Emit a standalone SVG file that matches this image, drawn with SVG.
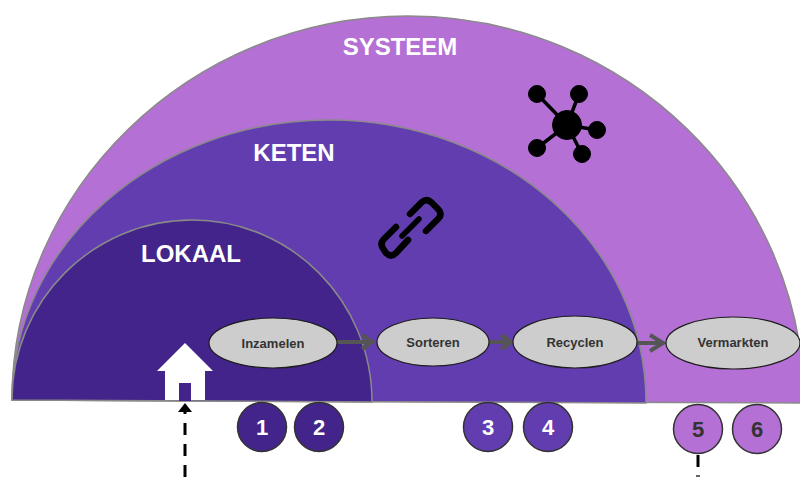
<svg xmlns="http://www.w3.org/2000/svg" width="800" height="477" viewBox="0 0 800 477">
<style>
.dome{stroke:#8a8a8a;stroke-width:1.5}
.title{font:bold 24px "Liberation Sans",Arial,sans-serif;fill:#fff;text-anchor:middle}
.step ellipse{fill:#cdcdcd;stroke:#1c1c1c;stroke-width:1.2}
.step text{font:bold 13px "Liberation Sans",Arial,sans-serif;fill:#333;text-anchor:middle}
.num circle{stroke:#333;stroke-width:1.5}
.num text{font:bold 22px "Liberation Sans",Arial,sans-serif;text-anchor:middle}
.d{fill:#42248a}.m{fill:#623db0}.l{fill:#b470d4}
.flow{stroke:#555;stroke-width:4;fill:none}
.head{fill:none;stroke:#555;stroke-width:4}
</style>
<g id="systeem"><path class="dome l" d="M12 400C12 190 190 16 408 16C626 16 804 190 804 403Z"/><text class="title" x="400" y="55">SYSTEEM</text></g>
<g id="keten"><path class="dome m" d="M12 400C12 245 155 120 329 120C504 120 646 245 646 403Z"/><text class="title" x="294" y="161">KETEN</text></g>
<g id="lokaal"><path class="dome d" d="M12 400C12 301 93 220 192 220C291 220 372 301 372 402Z"/><text class="title" x="191" y="262">LOKAAL</text></g>
<g id="netwerk-icoon" fill="#000" stroke="#000">
<path stroke-width="3.5" d="M537 94L567 125M579 94L567 125M597 130L567 125M537 148L567 125M582 154L567 125"/>
<circle cx="567" cy="125" r="14.5"/><circle cx="537" cy="94" r="8.5"/><circle cx="579" cy="94" r="8.5"/><circle cx="597" cy="130" r="8.5"/><circle cx="537" cy="148" r="8.5"/><circle cx="582" cy="154" r="8.5"/>
</g>
<g id="ketting-icoon" fill="none" stroke="#000" stroke-linecap="round">
<path stroke-width="6.5" d="M410 214L422 202Q427 198 432 203L438 209Q443 214 438 219L426 231"/>
<path stroke-width="6.5" d="M408 240L396 253Q391 258 386 253L384 250Q379 244 384 239L396 227"/>
<path stroke-width="5.5" d="M402 236L419 219"/>
</g>
<g id="huis">
<path fill="#fff" d="M157 371L185 343L213 371H205V400H165V371Z"/>
<rect class="d" x="179" y="383" width="12" height="18"/>
</g>
<g id="connectors">
<path class="flow" d="M337 342H372"/><path class="head" d="M362 335L372 342L362 349"/>
<path class="flow" d="M489 342H510"/><path class="head" d="M501 335L511 342L501 349"/>
<path class="flow" d="M637 343H663"/><path class="head" d="M650 335L663 343L650 351"/>
<path stroke="#000" stroke-width="3" stroke-dasharray="12 9" fill="none" d="M185 477V412"/>
<path fill="#000" d="M185 403L192 412H178Z"/>
<path stroke="#000" stroke-width="3" fill="none" d="M698 455V467"/>
<path stroke="#666" stroke-width="2" fill="none" d="M696 476H700"/>
</g>
<g id="inzamelen" class="step"><ellipse cx="273" cy="343" rx="64" ry="25"/><text x="273" y="348">Inzamelen</text></g>
<g id="sorteren" class="step"><ellipse cx="433" cy="342" rx="56" ry="24"/><text x="433" y="347">Sorteren</text></g>
<g id="recyclen" class="step"><ellipse cx="575" cy="342" rx="62" ry="26"/><text x="575" y="347">Recyclen</text></g>
<g id="vermarkten" class="step"><ellipse cx="733" cy="343" rx="67" ry="26"/><text x="733" y="347">Vermarkten</text></g>
<g id="n1" class="num"><circle class="d" cx="262" cy="427" r="24.5"/><text x="262" y="435" fill="#fff">1</text></g>
<g id="n2" class="num"><circle class="d" cx="319" cy="427" r="24.5"/><text x="319" y="435" fill="#fff">2</text></g>
<g id="n3" class="num"><circle class="m" cx="488" cy="427" r="24.5"/><text x="488" y="435" fill="#fff">3</text></g>
<g id="n4" class="num"><circle class="m" cx="548" cy="427" r="24.5"/><text x="548" y="435" fill="#fff">4</text></g>
<g id="n5" class="num"><circle class="l" cx="698" cy="429" r="24.5"/><text x="698" y="437" fill="#333">5</text></g>
<g id="n6" class="num"><circle class="l" cx="757" cy="429" r="24.5"/><text x="757" y="437" fill="#333">6</text></g>
</svg>
